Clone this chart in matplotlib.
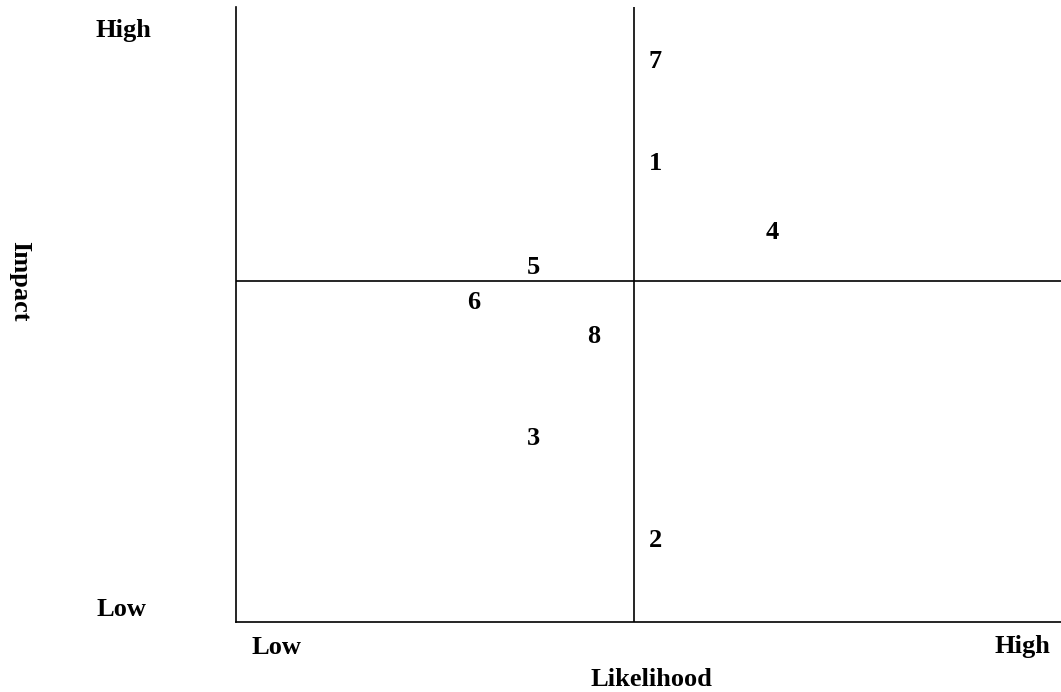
import matplotlib
matplotlib.use("Agg")
import matplotlib.pyplot as plt

# Risk items: label, likelihood (0-1), impact (0-1)
risk_ids = ["7", "1", "4", "5", "6", "8", "3", "2"]
likelihood = [0.508, 0.508, 0.650, 0.361, 0.288, 0.434, 0.361, 0.508]
impact = [0.911, 0.745, 0.634, 0.576, 0.519, 0.465, 0.298, 0.132]

mid_likelihood = 0.4824
mid_impact = 0.5545

plt.rcParams['font.family'] = ['Liberation Serif', 'DejaVu Serif']

W, H = 1061, 692
fig = plt.figure(figsize=(W / 100, H / 100), dpi=100)
left, right, top, bottom = 236, 1061, 7, 622
ax = fig.add_axes([left / W, (H - bottom) / H, (right - left) / W, (bottom - top) / H])
ax.set_xlim(0, 1)
ax.set_ylim(0, 1)
ax.set_xticks([])
ax.set_yticks([])
for s in ["top", "right"]:
    ax.spines[s].set_visible(False)
for s in ["left", "bottom"]:
    ax.spines[s].set_linewidth(1.2)
    ax.spines[s].set_color("black")

ax.axvline(mid_likelihood, color="black", lw=1.2)
ax.axhline(mid_impact, color="black", lw=1.2)

for lab, x, y in zip(risk_ids, likelihood, impact):
    ax.text(x, y, lab, ha="center", va="center", fontsize=19, fontweight="bold")

def ftext(px, py, s, **kw):
    fig.text(px / W, 1 - py / H, s, fontsize=19, fontweight="bold", **kw)

ftext(123, 30, "High", ha="center", va="center")
ftext(121, 610, "Low", ha="center", va="center")
ftext(276, 647, "Low", ha="center", va="center")
ftext(1022, 647, "High", ha="center", va="center")
ftext(651, 680, "Likelihood", ha="center", va="center")
ftext(20, 281, "Impact", ha="center", va="center", rotation=270)

fig.savefig("out.png", dpi=100)
